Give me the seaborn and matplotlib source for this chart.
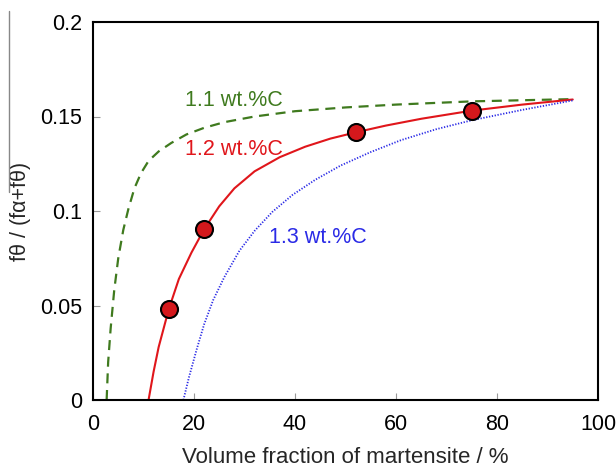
import matplotlib
matplotlib.use("Agg")
import matplotlib.pyplot as plt
import seaborn as sns
from matplotlib.lines import Line2D

# Data
x_11 = [2.7, 3.0, 3.5, 4.2, 5.0, 6.0, 7.0, 8.2, 9.5, 11.0, 13.0, 15.5, 18.5, 22.0, 26.0, 32.0,
        40.0, 50.0, 60.0, 75.0, 95.0]
y_11 = [0.0, 0.020, 0.038, 0.058, 0.075, 0.090, 0.101, 0.112, 0.120, 0.1265, 0.1315, 0.1360,
        0.1405, 0.144, 0.147, 0.150, 0.1528, 0.1548, 0.1563, 0.158, 0.1592]

x_12 = [11.0, 12.0, 13.0, 15.0, 17.0, 19.5, 22.0, 25.0, 28.0, 32.0, 37.0, 42.0, 47.0, 52.0,
        58.0, 65.0, 75.0, 85.0, 95.0]
y_12 = [0.0, 0.015, 0.028, 0.048, 0.064, 0.078, 0.0903, 0.1025, 0.112, 0.1210, 0.1285, 0.1340,
        0.1383, 0.1416, 0.1452, 0.1488, 0.1531, 0.1563, 0.159]

x_13 = [17.9, 19.0, 20.5, 22.0, 23.8, 26.0, 29.0, 32.0, 35.5, 39.5, 44.0, 49.0, 55.0, 61.0,
        68.0, 75.0, 85.0, 95.0]
y_13 = [0.0, 0.012, 0.0265, 0.040, 0.0529, 0.065, 0.079, 0.0895, 0.0995, 0.1085, 0.1165,
        0.124, 0.1312, 0.1375, 0.1433, 0.148, 0.1535, 0.1585]

pts_x = [15, 22, 52, 75]
pts_y = [0.048, 0.0903, 0.1416, 0.153]

labels = ["1.1 wt.%C", "1.2 wt.%C", "1.3 wt.%C"]
xticks = [0, 20, 40, 60, 80, 100]
yticks = [0, 0.05, 0.1, 0.15, 0.2]
ytick_labels = ["0", "0.05", "0.1", "0.15", "0.2"]

sns.set_style("white")
plt.rcParams["font.family"] = ["Liberation Sans", "DejaVu Sans"]
FS = 15.5

fig = plt.figure(figsize=(6.16, 4.68), dpi=100)
ax = fig.add_axes([93/616, 1 - 400/468, (598 - 93)/616, (400 - 22)/468])

green = "#3f7a1e"
red = "#e0161b"
blue = "#2a2ae6"

sns.lineplot(x=x_11, y=y_11, ax=ax, color=green, lw=1.6, sort=False, estimator=None,
             linestyle=(0, (4.5, 3)))
sns.lineplot(x=x_12, y=y_12, ax=ax, color=red, lw=1.5, sort=False, estimator=None)
sns.lineplot(x=x_13, y=y_13, ax=ax, color=blue, lw=1.3, sort=False, estimator=None,
             linestyle=(0, (0.7, 0.9)))
sns.scatterplot(x=pts_x, y=pts_y, ax=ax, s=150, color="#d4181c", edgecolor="black",
                linewidth=1.5, zorder=5)

ax.text(18.2, 0.1587, labels[0], color=green, fontsize=FS, va="center", ha="left")
ax.text(18.2, 0.1323, labels[1], color=red, fontsize=FS, va="center", ha="left")
ax.text(34.9, 0.0861, labels[2], color=blue, fontsize=FS, va="center", ha="left")

ax.set_xlim(0, 100)
ax.set_ylim(0, 0.2)
ax.set_xticks(xticks)
ax.set_xticklabels([str(t) for t in xticks])
ax.set_yticks(yticks)
ax.set_yticklabels(ytick_labels)

for s in ax.spines.values():
    s.set_color("black")
    s.set_linewidth(1.5)
    s.set_visible(True)

ax.tick_params(axis="both", direction="in", length=5, width=0.8, color="#999999",
               labelsize=FS, labelcolor="black", top=False, right=False,
               left=True, bottom=True)
ax.tick_params(axis="y", pad=8)
ax.tick_params(axis="x", pad=10)

ax.set_xlabel("Volume fraction of martensite / %", fontsize=16, labelpad=9)
ax.set_ylabel("f\u03b8 / (f\u03b1+f\u03b8)", fontsize=FS, labelpad=6)

fig.add_artist(Line2D([9/616, 9/616], [1 - 11/468, 1 - 192/468], color="#888888", lw=1))

fig.savefig("out.png", dpi=100)
